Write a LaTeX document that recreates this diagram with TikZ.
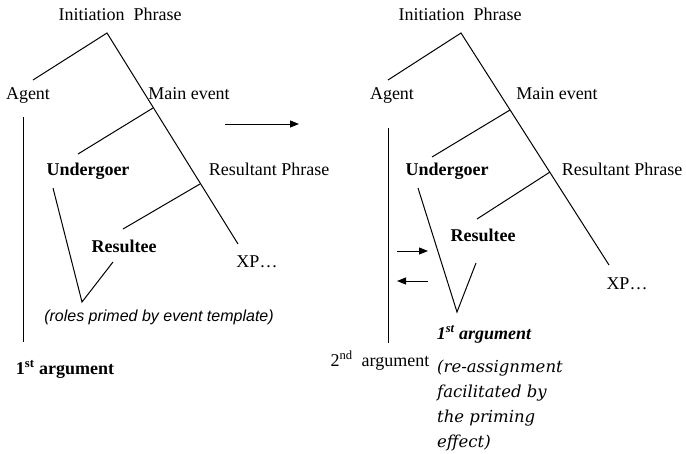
\documentclass[tikz,border=0pt]{standalone}
\usepackage{fontspec}
\setmainfont{Liberation Serif}
\newfontfamily\primefont{Liberation Sans}
\newfontfamily\notefont{DejaVu Serif}
\usetikzlibrary{arrows.meta,positioning}

\begin{document}
\begin{tikzpicture}[
    x=1pt, y=-1pt,
    lbl/.style={inner sep=0pt, text height=12pt, text depth=4pt, font=\fontsize{18}{20}\selectfont},
    role/.style={lbl, font=\fontsize{18}{20}\selectfont\bfseries},
    note/.style={inner sep=0pt, font=\fontsize{16}{18}\selectfont\primefont\itshape},
    branch/.style={line width=1pt},
    movearrow/.style={-{Triangle[length=9pt, width=7pt]}, line width=1pt},
]
    \useasboundingbox (0,0) rectangle (686,453);

    % left tree: roles primed by the event template
    \node[lbl] (initL) at (120,16) {Initiation\ \ Phrase};
    \node[lbl] (agentL) at (28,95) {Agent};
    \node[lbl] (mainL) at (189,95) {Main event};
    \node[role] (undL) at (88,171) {Undergoer};
    \node[lbl] (resphL) at (269,171) {Resultant Phrase};
    \node[role] (resL) at (124,248) {Resultee};
    \node[lbl] (xpL) at (257,263) {XP\dots};
    \node[note] (primeL) at (159,317) {(roles primed by event template)};
    \node[role] (argL) at (65,370) {1\textsuperscript{st} argument};

    \coordinate (topL) at (107,33);
    \coordinate (agL) at (33,80);
    \coordinate (endL) at (238,244);
    \coordinate (meL) at (153,108);
    \coordinate (ugL) at (78,154);
    \coordinate (rpL) at (200,184);
    \coordinate (rtL) at (123,229);
    \coordinate (vTopL) at (53,188);
    \coordinate (vL) at (82,302);
    \coordinate (vEndL) at (113,262);
    \coordinate (barTopL) at (23,117);
    \coordinate (barEndL) at (23,342);

    \draw[branch] (agL) -- (topL) -- (endL);
    \draw[branch] (meL) -- (ugL);
    \draw[branch] (rpL) -- (rtL);
    \draw[branch] (vTopL) -- (vL) -- (vEndL);
    \draw[branch] (barTopL) -- (barEndL);

    % step between the two trees
    \coordinate (stepA) at (225,124);
    \coordinate (stepB) at (299,124);
    \draw[movearrow] (stepA) -- (stepB);

    % right tree: re-assignment
    \node[lbl] (initR) at (460,16) {Initiation\ \ Phrase};
    \node[lbl] (agentR) at (392,95) {Agent};
    \node[lbl] (mainR) at (557,95) {Main event};
    \node[role] (undR) at (447,171) {Undergoer};
    \node[lbl] (resphR) at (622,171) {Resultant Phrase};
    \node[role] (resR) at (483,237) {Resultee};
    \node[lbl] (xpR) at (627,285) {XP\dots};
    \node[role, font=\fontsize{18}{20}\selectfont\bfseries\itshape] (argR) at (484,335) {1\textsuperscript{st} argument};
    \node[lbl] (arg2R) at (380,362) {2\textsuperscript{nd}\ \ argument};
    \node[inner sep=0pt, anchor=north west, align=left,
          font=\fontsize{16.5}{25}\selectfont\notefont\itshape] (reR) at (437,360)
          {(re-assignment\\facilitated by\\the priming\\effect)};

    \coordinate (topR) at (461,33);
    \coordinate (agR) at (388,80);
    \coordinate (endR) at (609,265);
    \coordinate (meR) at (510,110);
    \coordinate (ugR) at (432,157);
    \coordinate (rpR) at (550,172);
    \coordinate (rtR) at (477,219);
    \coordinate (vTopR) at (418,188);
    \coordinate (vR) at (457,312);
    \coordinate (vEndR) at (476,263);
    \coordinate (barTopR) at (388,128);
    \coordinate (barEndR) at (388,343);
    \coordinate (inA) at (397,251);
    \coordinate (inB) at (428,251);
    \coordinate (outA) at (428,281);
    \coordinate (outB) at (397,281);

    \draw[branch] (agR) -- (topR) -- (endR);
    \draw[branch] (meR) -- (ugR);
    \draw[branch] (rpR) -- (rtR);
    \draw[branch] (vTopR) -- (vR) -- (vEndR);
    \draw[branch] (barTopR) -- (barEndR);
    \draw[movearrow] (inA) -- (inB);
    \draw[movearrow] (outA) -- (outB);
\end{tikzpicture}
\end{document}
